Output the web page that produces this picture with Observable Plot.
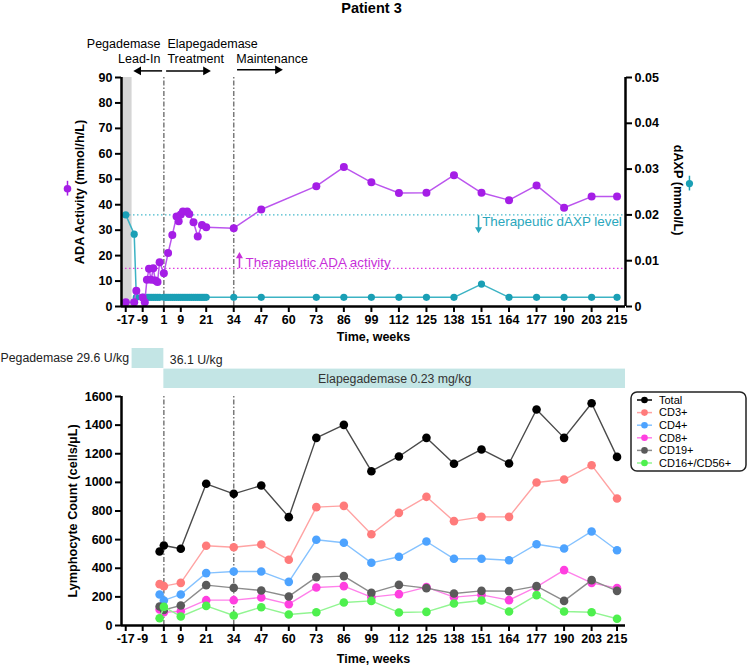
<!DOCTYPE html>
<html><head><meta charset="utf-8">
<script src="https://cdn.jsdelivr.net/npm/d3@7"></script>
<script src="https://cdn.jsdelivr.net/npm/@observablehq/plot@0.6"></script>
<style>
body{margin:0;background:#fff;}
#wrap{position:relative;width:749px;height:669px;font-family:Arial,"Liberation Sans",sans-serif;}
#wrap > div{position:absolute;left:0;}
</style></head><body>
<div id="wrap"><div id="top" style="top:0"></div><div id="dose" style="top:340px"></div><div id="bottom" style="top:390px"></div></div>
<script>
// ---------- data ----------
const xTicks = [-17,-9,1,9,21,34,47,60,73,86,99,112,125,138,151,164,177,190,203,215];
const adaTicks = [0,10,20,30,40,50,60,70,80,90];
const daxpTicks = [0,0.01,0.02,0.03,0.04,0.05];
const lymphTicks = [0,200,400,600,800,1000,1200,1400,1600];

const adaWeeks  = [-17,-13,-12,-9,-8,-7,-6,-5,-4,-3,-2,-1,1,3,5,7,8,9,10,12,13,15,17,19,21,34,47,73,86,99,112,125,138,151,164,177,190,203,215];
const adaValues = [1.7,1.7,6.2,3.5,1.7,10.5,14.8,10.5,15.0,10.2,9.6,17.4,13.1,21.0,28.1,35.4,33.5,36.2,37.3,37.3,36.4,33.1,27.5,32.0,31.1,30.8,38.1,47.3,54.8,48.8,44.6,44.7,51.6,44.7,41.8,47.6,38.8,43.2,43.2];

const daxpWeeks  = [-17,-13,-12,-9,-8,-7,-6,-5,-4,-3,-2,-1,1,2,3,4,5,6,7,8,9,10,11,12,13,14,15,16,17,18,19,20,21,34,47,73,86,99,112,125,138,151,164,177,190,203,215];
const daxpValues = [0.0200,0.0158,0.0020,0.0020,0.0020,0.0020,0.0020,0.0020,0.0020,0.0020,0.0020,0.0020,0.0020,0.0020,0.0020,0.0020,0.0020,0.0020,0.0020,0.0020,0.0020,0.0020,0.0020,0.0020,0.0020,0.0020,0.0020,0.0020,0.0020,0.0020,0.0020,0.0020,0.0020,0.0020,0.0020,0.0020,0.0020,0.0020,0.0020,0.0020,0.0020,0.0049,0.0020,0.0020,0.0020,0.0020,0.0020];

const adaThreshold = 15;
const daxpThreshold = 0.02;
const phaseWeeks = [1, 34];
const leadInBand = [-19, -14];

const doseLabels = ["Pegademase 29.6 U/kg", "Elapegademase 0.23 mg/kg"];
const doseStart = [-14, 1];
const doseEnd = [1, 219];
const doseChangeLabel = "36.1 U/kg";

const lymphWeeks = [-1,1,9,21,34,47,60,73,86,99,112,125,138,151,164,177,190,203,215];
const seriesNames = ["Total","CD3+","CD4+","CD8+","CD19+","CD16+/CD56+"];
const totalCounts = [517,559,536,990,920,978,757,1311,1402,1078,1181,1311,1130,1230,1132,1509,1311,1553,1178];
const cd3Counts   = [289,275,298,557,547,566,459,827,836,638,787,899,729,759,759,999,1020,1120,887];
const cd4Counts   = [217,175,217,366,377,377,305,599,578,438,480,587,466,466,456,568,538,657,526];
const cd8Counts   = [112,93,100,177,177,196,149,266,275,198,219,268,198,214,177,270,387,298,261];
const cd19Counts  = [133,109,140,282,263,245,203,338,345,228,284,261,224,242,240,275,172,317,242];
const cd16Counts  = [51,130,63,137,70,128,77,93,161,172,91,95,154,175,98,212,98,93,47];

// ---------- styles ----------
const FONT = "Arial, 'Liberation Sans', sans-serif";
const xDomain = [-19, 219];
const ML = 121, MR = 124;
const K = 90 / 0.05; // ADA units per dAXP unit on shared frame
const PURPLE = "#a51ee6", PURPLE_LINE = "#bb55ee";
const TEAL = "#1a9fb5", TEAL_LINE = "#3cb3c4";
const dotColors  = ["#000000","#ff7b7b","#4da3ff","#ff3fe0","#5a5a5a","#4ef04e"];
const lineColors = ["#4a4a4a","#ffa3a3","#85c2ff","#ff80ea","#8c8c8c","#92f592"];
const DASHDOT = "5,2,1.5,2";
const plain = d => String(d);

const adaData = adaWeeks.map((w,i)=>({week:w, value:adaValues[i]}));
const daxpData = daxpWeeks.map((w,i)=>({week:w, value:daxpValues[i]*K}));

const phaseTextEnd = [
  {text:"Pegademase", x:-0.6, y:103.2},
  {text:"Lead-In", x:-0.6, y:97.3}
];
const phaseTextStart = [
  {text:"Elapegademase", x:2.7, y:103.2},
  {text:"Treatment", x:2.7, y:97.3},
  {text:"Maintenance", x:35.2, y:97.3}
];
const phaseArrows = [
  {x1:0.4, x2:-13.4, y:92.6},
  {x1:2.3, x2:23.2, y:92.6},
  {x1:35.8, x2:57.2, y:93.0}
];
const arrowHeads = phaseArrows.map(a => {
  const s = Math.sign(a.x2 - a.x1);
  return {x: a.x2 - s*2.4, y: a.y, rot: s > 0 ? 90 : -90};
});

const topPlot = Plot.plot({
  width: 749, height: 345,
  marginLeft: ML, marginRight: MR, marginTop: 77, marginBottom: 39,
  x: {domain: xDomain},
  y: {domain: [0, 90]},
  style: {background:"transparent", overflow:"visible", fontFamily: FONT, fontSize:"12.5px", fontWeight:"bold", color:"#000"},
  marks: [
    Plot.rect([leadInBand], {x1: d=>d[0], x2: d=>d[1], y1: 0, y2: 90, fill: "#d5d5d5"}),
    Plot.ruleY([daxpThreshold*K], {stroke: "#45b9cb", strokeWidth: 1.4, strokeDasharray: "1.5,2.5"}),
    Plot.ruleY([adaThreshold], {stroke: "#e03de0", strokeWidth: 1.4, strokeDasharray: "1.5,2.5"}),
    Plot.ruleX(phaseWeeks, {y1: 0, y2: 90, stroke: "#7a7a7a", strokeWidth: 1.5, strokeDasharray: DASHDOT}),
    Plot.line(daxpData, {x:"week", y:"value", stroke: TEAL_LINE, strokeWidth: 1.5}),
    Plot.dot(daxpData, {x:"week", y:"value", fill: TEAL, r: 3.6}),
    Plot.line(adaData, {x:"week", y:"value", stroke: PURPLE_LINE, strokeWidth: 1.5}),
    Plot.dot(adaData, {x:"week", y:"value", fill: PURPLE, r: 4}),
    Plot.axisX({ticks: xTicks, tickFormat: plain, tickSize: 6, tickPadding: 3, strokeWidth: 2, label: null}),
    Plot.axisY({ticks: adaTicks, tickFormat: plain, tickSize: 6, tickPadding: 3, strokeWidth: 2, label: null}),
    Plot.axisY({anchor: "right", ticks: daxpTicks.map(t=>t*K), tickSize: 6, tickPadding: 3, strokeWidth: 2, label: null,
      tickFormat: v => { const t = Math.round(v/K*100)/100; return t === 0 ? "0" : t.toFixed(2); }}),
    Plot.ruleX([xDomain[0]], {y1:0, y2:90, strokeWidth: 2.5}),
    Plot.ruleX([xDomain[1]], {y1:0, y2:90, strokeWidth: 2.5}),
    Plot.ruleY([0], {strokeWidth: 2.5}),
    // titles and axis labels
    Plot.text(["Patient 3"], {frameAnchor:"top", dy:-69, dx:-2, fontSize: 14.5, fontWeight:"bold", lineAnchor:"middle"}),
    Plot.text(["Time, weeks"], {frameAnchor:"bottom", dy:30, fontSize: 12.5, lineAnchor:"middle"}),
    Plot.text(["ADA Activity (mmol/h/L)"], {frameAnchor:"left", dx:-42, dy:0, rotate:-90, textAnchor:"middle", lineAnchor:"middle", fontSize:12.7}),
    Plot.text(["dAXP (mmol/L)"], {frameAnchor:"right", dx:53, dy:-2, rotate:90, textAnchor:"middle", lineAnchor:"middle", fontSize:12.7}),
    // axis label legend icons
    Plot.ruleX([{x:-44.5, y1:43.4, y2:49.2}], {x:"x", y1:"y1", y2:"y2", stroke: PURPLE, strokeWidth: 1.5}),
    Plot.dot([{x:-44.5, y:46.3}], {x:"x", y:"y", fill: PURPLE, r: 3.8}),
    Plot.ruleX([{x:249.2, y1:45.4, y2:51.2}], {x:"x", y1:"y1", y2:"y2", stroke: TEAL, strokeWidth: 1.5}),
    Plot.dot([{x:249.2, y:48.3}], {x:"x", y:"y", fill: TEAL, r: 3.6}),
    // phase annotations
    Plot.text(phaseTextEnd, {x:"x", y:"y", text:"text", textAnchor:"end", fontWeight:"normal", fontSize:12.5, lineAnchor:"middle"}),
    Plot.text(phaseTextStart, {x:"x", y:"y", text:"text", textAnchor:"start", fontWeight:"normal", fontSize:12.5, lineAnchor:"middle"}),
    Plot.ruleY(phaseArrows, {x1: d=>d.x1, x2: d=>d.x2 - Math.sign(d.x2-d.x1)*2, y:"y", stroke:"#000", strokeWidth:1.5}),
    Plot.dot(arrowHeads, {x:"x", y:"y", rotate:"rot", symbol:"triangle", r:3.3, fill:"#000", stroke:"none"}),
    // therapeutic annotations
    Plot.ruleX([{x:36.7, y1:14.9, y2:20.0}], {x:"x", y1:"y1", y2:"y2", stroke:"#c72fd9", strokeWidth:1.6}),
    Plot.dot([{x:36.7, y:19.8}], {x:"x", y:"y", symbol:"triangle", r:2.6, fill:"#c72fd9"}),
    Plot.text(["Therapeutic ADA activity"], {x:[39.6], y:[17.3], textAnchor:"start", lineAnchor:"middle", fill:"#c72fd9", fontWeight:"normal", fontSize:13.4}),
    Plot.ruleX([{x:149.6, y1:35.7, y2:30.3}], {x:"x", y1:"y1", y2:"y2", stroke:"#2aa7bd", strokeWidth:1.6}),
    Plot.dot([{x:149.6, y:30.4}], {x:"x", y:"y", symbol:"triangle", rotate:180, r:2.6, fill:"#2aa7bd"}),
    Plot.text(["Therapeutic dAXP level"], {x:[151.3], y:[33.4], textAnchor:"start", lineAnchor:"middle", fill:"#2aa7bd", fontWeight:"normal", fontSize:13.4})
  ]
});
document.getElementById("top").append(topPlot);

// ---------- dosing bars ----------
const doseData = doseLabels.map((name,i)=>({name, start: doseStart[i], end: doseEnd[i], row: i}));
const dosePlot = Plot.plot({
  width: 749, height: 50,
  marginLeft: ML, marginRight: MR, marginTop: 0, marginBottom: 0,
  x: {domain: xDomain, axis: null},
  y: {domain: [0, 2], range: [8, 48], axis: null},
  style: {background:"transparent", overflow:"visible", fontFamily: FONT, fontSize:"12.3px", color:"#000"},
  marks: [
    Plot.rect(doseData, {x1:"start", x2:"end", y1: d=>d.row===0?0:1.03, y2: d=>d.row===0?1:2, fill:"#c3e5e5"}),
    Plot.text([doseData[0]], {x:"start", y:[0.5], text:"name", dx:-3, textAnchor:"end", lineAnchor:"middle", fill:"#222"}),
    Plot.text([doseChangeLabel], {x:[doseEnd[0]], y:[0.6], dx:6, textAnchor:"start", lineAnchor:"middle", fill:"#222"}),
    Plot.text([doseData[1]], {x: d=>(d.start+d.end)/2, y:[1.55], text:"name", textAnchor:"middle", lineAnchor:"middle", fill:"#333"})
  ]
});
document.getElementById("dose").append(dosePlot);

// ---------- lymphocytes ----------
const seriesValues = [totalCounts, cd3Counts, cd4Counts, cd8Counts, cd19Counts, cd16Counts];
const lymphTables = seriesValues.map((vals,si)=>lymphWeeks.map((w,i)=>({week:w, value:vals[i], series:seriesNames[si]})));
const seriesMarks = [];
lymphTables.forEach((tbl,si)=>{
  seriesMarks.push(Plot.line(tbl, {x:"week", y:"value", stroke: lineColors[si], strokeWidth: 1.4}));
  seriesMarks.push(Plot.dot(tbl, {x:"week", y:"value", fill: dotColors[si], r: 4.3}));
});
const bottomPlot = Plot.plot({
  width: 749, height: 279,
  marginLeft: ML, marginRight: MR, marginTop: 6, marginBottom: 44,
  x: {domain: xDomain},
  y: {domain: [0, 1600]},
  style: {background:"transparent", overflow:"visible", fontFamily: FONT, fontSize:"12.5px", fontWeight:"bold", color:"#000"},
  marks: [
    Plot.ruleX(phaseWeeks, {y1: 0, y2: 1600, stroke: "#7a7a7a", strokeWidth: 1.5, strokeDasharray: DASHDOT}),
    ...seriesMarks,
    Plot.axisX({ticks: xTicks, tickFormat: plain, tickSize: 6, tickPadding: 3, strokeWidth: 2, label: null}),
    Plot.axisY({ticks: lymphTicks, tickFormat: plain, tickSize: 6, tickPadding: 3, strokeWidth: 2, label: null}),
    Plot.ruleX([xDomain[0]], {y1:0, y2:1600, strokeWidth: 2.5}),
    Plot.ruleY([0], {strokeWidth: 2.5}),
    Plot.text(["Time, weeks"], {frameAnchor:"bottom", dy:33, fontSize: 12.5, lineAnchor:"middle"}),
    Plot.text(["Lymphocyte Count (cells/µL)"], {frameAnchor:"left", dx:-49, rotate:-90, textAnchor:"middle", lineAnchor:"middle", fontSize:12.7})
  ]
});
document.getElementById("bottom").append(bottomPlot);

// legend
const svg = d3.select(bottomPlot);
const lg = svg.append("g").attr("font-family", FONT).attr("font-weight", "normal").attr("font-size", 11).attr("text-anchor", "start");
lg.append("rect").attr("x", 631).attr("y", 2).attr("width", 115).attr("height", 79).attr("rx", 6)
  .attr("fill", "#fff").attr("stroke", "#222").attr("stroke-width", 1.5);
seriesNames.forEach((name,i)=>{
  const y = 10 + i*12.6;
  lg.append("line").attr("x1", 637).attr("x2", 652).attr("y1", y).attr("y2", y).attr("stroke", i===0?"#000":lineColors[i]).attr("stroke-width", 1.5);
  lg.append("circle").attr("cx", 644.5).attr("cy", y).attr("r", 3.3).attr("fill", dotColors[i]);
  lg.append("text").attr("x", 659).attr("y", y).attr("dy", "0.35em").attr("text-anchor", "start").attr("fill", "#000").text(name);
});
</script>
</body></html>
